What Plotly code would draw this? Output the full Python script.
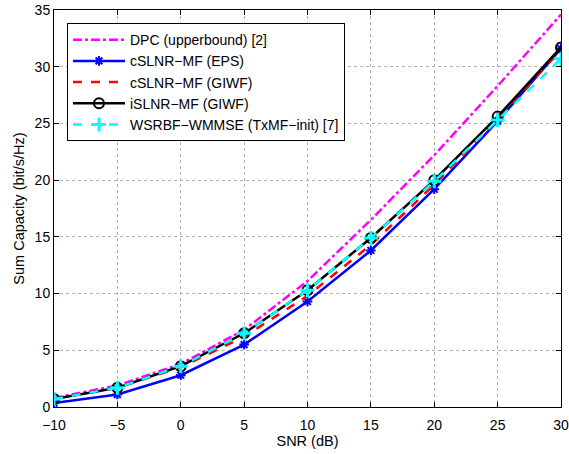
import plotly.graph_objects as go

snr = [-10, -5, 0, 5, 10, 15, 20, 25, 30]
dpc = [0.8, 1.9, 3.8, 6.8, 11.1, 16.5, 22.2, 28.3, 34.6]
cslnr_eps = [0.35, 1.1, 2.8, 5.5, 9.3, 13.8, 19.2, 25.2, 31.6]
cslnr_giwf = [0.7, 1.7, 3.5, 6.2, 9.8, 14.3, 19.6, 25.4, 31.5]
islnr_giwf = [0.7, 1.7, 3.6, 6.5, 10.3, 14.9, 20.0, 25.6, 31.7]
wsrbf = [0.7, 1.7, 3.6, 6.5, 10.3, 14.9, 19.9, 25.3, 30.7]

x_ticks = [-10, -5, 0, 5, 10, 15, 20, 25, 30]
x_ticktext = ["\u221210", "\u22125", "0", "5", "10", "15", "20", "25", "30"]
y_ticks = [0, 5, 10, 15, 20, 25, 30, 35]

names = ["DPC (upperbound) [2]", "cSLNR\u2212MF (EPS)", "cSLNR\u2212MF (GIWF)",
         "iSLNR\u2212MF (GIWF)", "WSRBF\u2212WMMSE (TxMF\u2212init) [7]"]

fig = go.Figure()
fig.add_trace(go.Scatter(x=snr, y=dpc, name=names[0], mode="lines",
                         line=dict(color="#ff00ff", width=2.5, dash="dashdot")))
fig.add_trace(go.Scatter(x=snr, y=cslnr_eps, name=names[1], mode="lines+markers",
                         line=dict(color="#0000ff", width=2.5),
                         marker=dict(symbol="asterisk-open", size=8,
                                     line=dict(color="#0000ff", width=2))))
fig.add_trace(go.Scatter(x=snr, y=cslnr_giwf, name=names[2], mode="lines",
                         line=dict(color="#ff0000", width=2.5, dash="dash")))
fig.add_trace(go.Scatter(x=snr, y=islnr_giwf, name=names[3], mode="lines+markers",
                         line=dict(color="#000000", width=2.5),
                         marker=dict(symbol="circle-open", size=10,
                                     line=dict(color="#000000", width=2))))
fig.add_trace(go.Scatter(x=snr, y=wsrbf, name=names[4], mode="lines+markers",
                         line=dict(color="#00ffff", width=2.5, dash="dash"),
                         marker=dict(symbol="cross-thin-open", size=10,
                                     line=dict(color="#00ffff", width=3))))

axis_common = dict(showline=True, linecolor="black", linewidth=1, mirror="ticks",
                   ticks="inside", ticklen=5, tickcolor="black",
                   showgrid=True, gridcolor="#b0b0b0", griddash="dot", gridwidth=1,
                   zeroline=False, tickfont=dict(size=14, color="black"),
                   ticklabeloverflow="allow")

fig.update_xaxes(range=[-10, 30], tickvals=x_ticks, ticktext=x_ticktext,
                 ticklabelstandoff=5,
                 title=dict(text="SNR (dB)", font=dict(size=14.5, color="black"), standoff=0),
                 **axis_common)
fig.update_yaxes(range=[0, 35], tickvals=y_ticks,
                 title=dict(text="Sum Capacity (bit/s/Hz)", font=dict(size=14.5, color="black"), standoff=6),
                 **axis_common)

fig.update_layout(
    width=569, height=454,
    margin=dict(l=54, r=8, t=10, b=47, autoexpand=False),
    paper_bgcolor="white", plot_bgcolor="white",
    font=dict(family="Liberation Sans, Arial, sans-serif", size=14, color="black"),
    legend=dict(x=0.0256, y=0.967, xanchor="left", yanchor="top",
                bgcolor="white", bordercolor="black", borderwidth=1,
                font=dict(size=14), itemwidth=52),
)

fig.write_html("out.html", config={"displayModeBar": False},
               post_script="document.body.style.margin='0';")
